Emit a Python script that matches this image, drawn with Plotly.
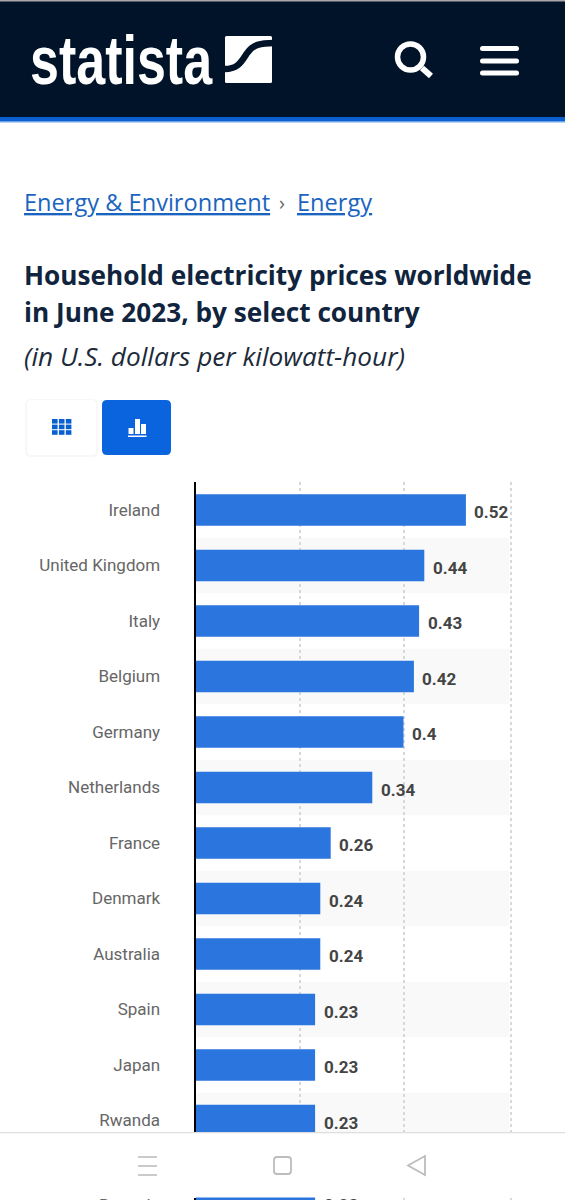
import plotly.graph_objects as go

W = 565
H = 1200

countries = ["Ireland", "United Kingdom", "Italy", "Belgium", "Germany", "Netherlands",
             "France", "Denmark", "Australia", "Spain", "Japan", "Rwanda"]
prices = [0.52, 0.44, 0.43, 0.42, 0.40, 0.34, 0.26, 0.24, 0.24, 0.23, 0.23, 0.23]
price_labels = ["0.52", "0.44", "0.43", "0.42", "0.4", "0.34", "0.26", "0.24", "0.24", "0.23", "0.23", "0.23"]
grid_ticks = [0.2, 0.4, 0.606]
next_country = ["Rwanda"]
next_price = [0.23]
next_label = ["0.23"]

NAVY = "#001328"
BLUE = "#0a64dd"
BAR = "#2a75de"
GRAY = "#bdbdbd"


def px(x):
    return x / W


def py(y):
    return 1 - y / H


def rect(x0, y0, x1, y1, color):
    return dict(type="rect", xref="paper", yref="paper", x0=px(x0), x1=px(x1), y0=py(y0), y1=py(y1),
                fillcolor=color, line_width=0, layer="above")


def line(x0, y0, x1, y1, color, width):
    return dict(type="line", xref="paper", yref="paper", x0=px(x0), x1=px(x1), y0=py(y0), y1=py(y1),
                line=dict(color=color, width=width), layer="above")


def path(points, fill=None, color=None, width=0):
    # points is an svg path with {x,y} pairs already moved to paper coordinates
    return dict(type="path", xref="paper", yref="paper", path=points, fillcolor=fill,
                line=dict(color=color, width=width), layer="above")


def rounded(x0, y0, x1, y1, r):
    a, b, c, d = px(x0), px(x1), py(y0), py(y1)
    rx, ry = r / W, r / H
    return (f"M{a+rx},{c} L{b-rx},{c} Q{b},{c} {b},{c-ry} L{b},{d+ry} Q{b},{d} {b-rx},{d} "
            f"L{a+rx},{d} Q{a},{d} {a},{d+ry} L{a},{c-ry} Q{a},{c} {a+rx},{c} Z")


def label(x, y, text, size, color, family="Open Sans", anchor="left"):
    return dict(xref="paper", yref="paper", x=px(x), y=py(y), text=text, showarrow=False,
                xanchor=anchor, yanchor="middle", borderpad=0, borderwidth=0,
                font=dict(family=family, size=size, color=color))


fig = go.Figure()
fig.add_trace(go.Bar(x=prices, y=countries, orientation="h", marker=dict(color=BAR, line_width=0),
                     hoverinfo="skip"))
fig.add_trace(go.Bar(x=next_price, y=next_country, orientation="h", yaxis="y2",
                     marker=dict(color=BAR, line_width=0), hoverinfo="skip"))

shapes = []
# shaded rows, drawn over the grid like the original
for i in range(1, len(countries), 2):
    shapes.append(dict(type="rect", xref="x", yref="y", x0=0, x1=0.603, y0=i - 0.5, y1=i + 0.5,
                       fillcolor="#f9f9f9", line_width=0, layer="below"))

# header
shapes.append(rect(0, 0, W, 117, NAVY))
shapes.append(rect(0, 0, W, 1.5, "#a8a8a8"))
shapes.append(rect(0, 117, W, 121, "#0a60d0"))
shapes.append(rect(0, 121, W, 122.5, "#6fa5e6"))
shapes.append(path(rounded(225, 36, 272, 83, 1.5), fill="white"))
a = [(223, 69), (240, 70), (243, 58), (248, 52), (253, 45), (260, 43), (274, 43)]
a = [(px(x), py(y)) for x, y in a]
shapes.append(path(f"M{a[0][0]},{a[0][1]} C{a[1][0]},{a[1][1]} {a[2][0]},{a[2][1]} {a[3][0]},{a[3][1]} "
                   f"C{a[4][0]},{a[4][1]} {a[5][0]},{a[5][1]} {a[6][0]},{a[6][1]}",
                   color=NAVY, width=6.5))
# search icon
shapes.append(dict(type="circle", xref="paper", yref="paper", x0=px(397.5), x1=px(423.5), y0=py(44), y1=py(70),
                   line=dict(color="white", width=5.5), layer="above"))
shapes.append(line(422, 68, 431, 76, "white", 6))
# menu icon
for y in [48.5, 61, 73]:
    shapes.append(path(rounded(480, y - 2.5, 519, y + 2.5, 2.5), fill="white"))

# view buttons
shapes.append(path(rounded(25, 399, 98, 457, 6), fill="#f8f8f8"))
shapes.append(path(rounded(27, 400, 96, 455, 5), fill="white"))
shapes.append(path(rounded(102, 400, 171, 455, 5), fill=BLUE))
for col in range(3):
    for row in range(3):
        x0 = 52 + col * 6.9
        y0 = 419 + row * 5.6
        shapes.append(rect(x0, y0, x0 + 5.6, y0 + 4.6, "#0a5fcf"))
shapes.append(rect(128.5, 428, 133.5, 434, "white"))
shapes.append(rect(135, 419, 140, 434, "white"))
shapes.append(rect(141, 424, 146, 434, "white"))
shapes.append(rect(128, 435.5, 146.5, 437, "white"))

# bottom navigation bar
shapes.append(rect(0, 1132, W, 1133.5, "#dedede"))
shapes.append(rect(0, 1133.5, W, 1197, "white"))
for y in [1157, 1166, 1175]:
    shapes.append(line(138, y, 157, y, GRAY, 1.6))
shapes.append(path(rounded(274, 1157, 291, 1174, 3), color=GRAY, width=1.8))
t = [(425, 1156), (408, 1165.5), (425, 1175)]
t = [(px(x), py(y)) for x, y in t]
shapes.append(path(f"M{t[0][0]},{t[0][1]} L{t[1][0]},{t[1][1]} L{t[2][0]},{t[2][1]} Z", color=GRAY, width=1.8))

annotations = [
    label(30, 61, "<b>statista</b>", 52, "white", family="Liberation Sans"),
    label(24, 201.5, "<u>Energy &amp; Environment</u>", 23.6, "#1a64c0"),
    label(279, 202, "›", 20, "#666666"),
    label(297, 201.5, "<u>Energy</u>", 23.6, "#1a64c0"),
    label(24, 274.5, "<b>Household electricity prices worldwide</b>", 26.2, "#10243e"),
    label(24, 312, "<b>in June 2023, by select country</b>", 26.2, "#10243e"),
    label(24, 356, "<i>(in U.S. dollars per kilowatt-hour)</i>", 26.2, "#1c2a3a"),
]

# value labels sit just past the bar ends
for name, val, lab in zip(countries, prices, price_labels):
    annotations.append(dict(xref="x", yref="y", x=val, y=name, text=f"<b>{lab}</b>", showarrow=False,
                            xanchor="left", xshift=6.5, yshift=-2, font=dict(family="Roboto", size=17, color="#444444")))

# row peeking out under the navigation bar
annotations.append(label(160, 1205, next_country[0], 17, "#666666", family="Roboto", anchor="right"))
annotations.append(dict(xref="x", yref="paper", x=next_price[0], y=py(1205), text=f"<b>{next_label[0]}</b>",
                        showarrow=False, xanchor="left", xshift=6.5, yanchor="middle",
                        font=dict(family="Roboto", size=17, color="#444444")))

fig.update_layout(
    width=W, height=H, margin=dict(l=0, r=0, t=0, b=0), paper_bgcolor="white", plot_bgcolor="white",
    showlegend=False, bargap=0.43, shapes=shapes, annotations=annotations,
    xaxis=dict(domain=[px(195.5), 1], range=[0, (565 - 195.5) / 520], anchor="y", showticklabels=False,
               tickvals=grid_ticks, showgrid=True, gridcolor="#d8d8d8", griddash="dot", gridwidth=1.5,
               zeroline=False, showline=False, ticks=""),
    yaxis=dict(domain=[py(1133), py(481.7)], type="category", categoryorder="array", categoryarray=countries,
               range=[11.225, -0.51], showgrid=False, zeroline=False, showline=True, linecolor="black",
               linewidth=2, ticks="", ticklabelstandoff=30, tickfont=dict(family="Roboto", size=17, color="#666666")),
    yaxis2=dict(domain=[0, py(1197.5)], anchor="x", type="category", range=[-0.1, 0.1], showgrid=False,
                zeroline=False, showline=True, linecolor="black", linewidth=2, ticks="", showticklabels=False),
)

# no narrow sans is installed, so the wordmark is stretched upright to get its tall look
stretch_logo = """
document.body.style.margin = '0';
document.querySelectorAll('.annotation-text').forEach(function (el) {
  if (el.textContent === 'statista') {
    var b = el.getBBox();
    var cy = b.y + b.height / 2;
    el.setAttribute('transform', 'translate(0,' + cy + ') scale(1,1.3) translate(0,' + (-cy) + ')');
  }
});
"""

fig.write_html("out.html", config=dict(displayModeBar=False), post_script=stretch_logo)
